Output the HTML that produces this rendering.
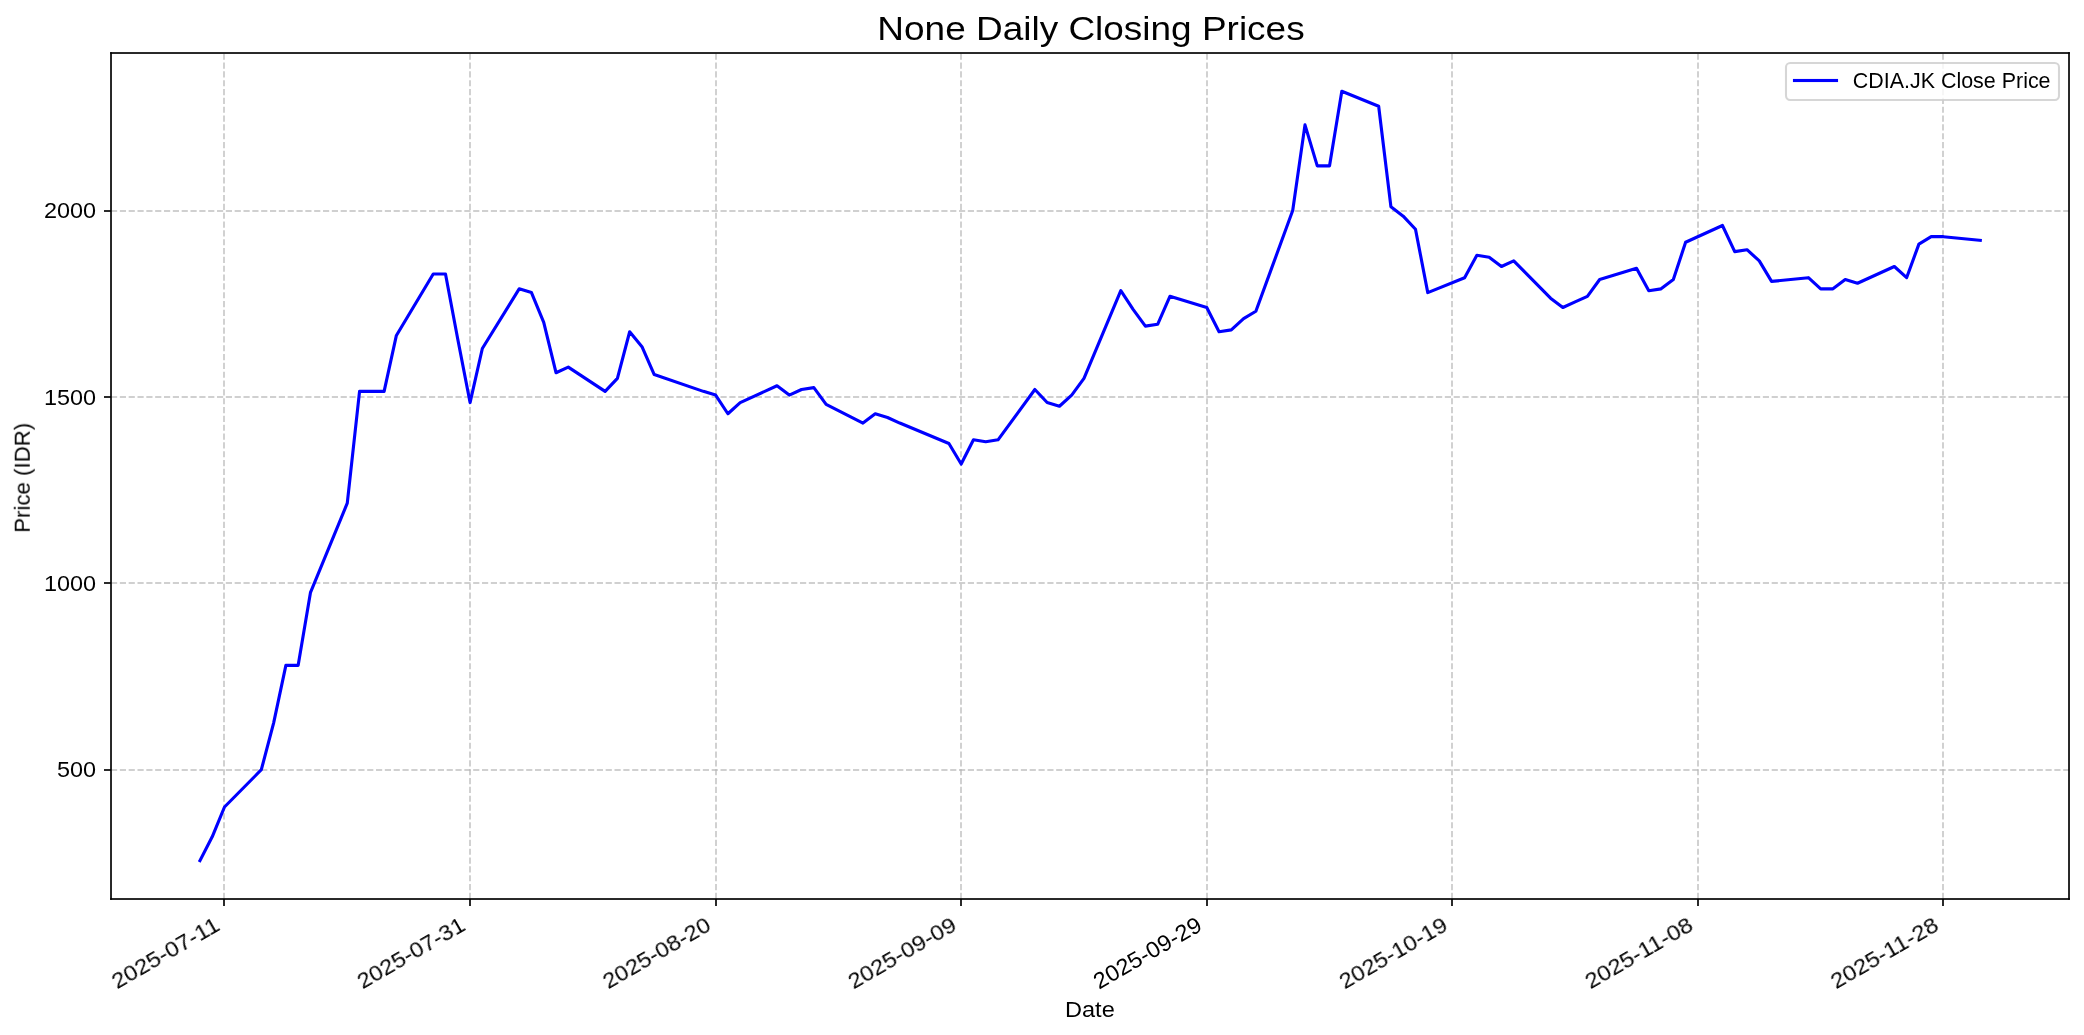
<!DOCTYPE html>
<html lang="en">
<head>
<meta charset="utf-8">
<title>None Daily Closing Prices</title>
<style>
html,body{margin:0;padding:0;background:#fff;}
body{width:2084px;height:1035px;overflow:hidden;}
svg{display:block;}
text{font-family:"Liberation Sans",sans-serif;fill:#000;}
.grid{stroke:#b0b0b0;stroke-opacity:0.7;stroke-width:1.6667;stroke-dasharray:6.1667 2.6667;fill:none;}
.hgrid{stroke-opacity:0.8;}
.tick{stroke:#000;stroke-width:1.6667;fill:none;}
.title{font-size:34px;}
.legend{font-size:21.8px;}
.ytick{font-size:21.45px;}
.xtick{font-size:22.6px;}
.xlabel{font-size:21.25px;}
.ylabel{font-size:21.3px;}
</style>
</head>
<body>
<svg width="2084" height="1035" viewBox="0 0 2084 1035">
<rect x="0" y="0" width="2084" height="1035" fill="#ffffff"/>
<!-- grid -->
<g class="grid">
<line x1="224" y1="899" x2="224" y2="53"/>
<line x1="470" y1="899" x2="470" y2="53"/>
<line x1="716" y1="899" x2="716" y2="53"/>
<line x1="961" y1="899" x2="961" y2="53"/>
<line x1="1207" y1="899" x2="1207" y2="53"/>
<line x1="1452" y1="899" x2="1452" y2="53"/>
<line x1="1698" y1="899" x2="1698" y2="53"/>
<line x1="1943" y1="899" x2="1943" y2="53"/>
<line class="hgrid" x1="111" y1="770" x2="2069" y2="770"/>
<line class="hgrid" x1="111" y1="583" x2="2069" y2="583"/>
<line class="hgrid" x1="111" y1="397" x2="2069" y2="397"/>
<line class="hgrid" x1="111" y1="211" x2="2069" y2="211"/>
</g>
<!-- CDIA.JK close price series -->
<polyline points="199.93,860.67 212.21,836.81 224.49,806.99 261.33,769.72 273.6,723.12 285.88,665.35 298.16,665.35 310.44,592.66 347.27,503.2 359.55,391.37 371.83,391.37 384.11,391.37 396.39,335.46 433.22,273.95 445.5,273.95 457.78,339.19 470.06,402.55 482.34,348.5 519.17,288.86 531.45,292.59 543.73,322.41 556.01,372.73 568.28,367.14 605.12,391.37 617.4,378.32 629.68,331.73 641.96,346.64 654.23,374.6 703.35,391.37 715.63,395.1 727.9,413.74 740.18,402.55 777.02,385.78 789.3,395.1 801.57,389.51 813.85,387.64 826.13,404.42 862.97,423.06 875.24,413.74 887.52,417.46 899.8,423.06 948.91,443.56 961.19,464.06 973.47,439.83 985.75,441.69 998.03,439.83 1034.86,389.51 1047.14,402.55 1059.42,406.28 1071.7,395.1 1083.98,378.32 1120.81,290.73 1133.09,309.36 1145.37,326.14 1157.65,324.27 1169.92,296.32 1206.76,307.5 1219.04,331.73 1231.32,329.87 1243.59,318.68 1255.87,311.23 1292.71,210.58 1304.99,124.85 1317.26,165.85 1329.54,165.85 1341.82,91.3 1378.66,106.21 1390.93,206.86 1403.21,216.18 1415.49,229.22 1427.77,292.59 1464.6,277.68 1476.88,255.32 1489.16,257.18 1501.44,266.5 1513.72,260.91 1550.55,298.18 1562.83,307.5 1575.11,301.91 1587.39,296.32 1599.67,279.54 1636.5,268.36 1648.78,290.73 1661.06,288.86 1673.34,279.54 1685.61,242.27 1722.45,225.49 1734.73,251.59 1747.01,249.72 1759.28,260.91 1771.56,281.41 1808.4,277.68 1820.68,288.86 1832.95,288.86 1845.23,279.54 1857.51,283.27 1894.35,266.5 1906.62,277.68 1918.9,244.13 1931.18,236.68 1943.46,236.68 1980.29,240.41" fill="none" stroke="#0000ff" stroke-width="3.125" stroke-linejoin="round" stroke-linecap="square"/>
<!-- ticks -->
<g class="tick">
<line x1="224" y1="899" x2="224" y2="906"/>
<line x1="470" y1="899" x2="470" y2="906"/>
<line x1="716" y1="899" x2="716" y2="906"/>
<line x1="961" y1="899" x2="961" y2="906"/>
<line x1="1207" y1="899" x2="1207" y2="906"/>
<line x1="1452" y1="899" x2="1452" y2="906"/>
<line x1="1698" y1="899" x2="1698" y2="906"/>
<line x1="1943" y1="899" x2="1943" y2="906"/>
<line x1="104" y1="770" x2="111" y2="770"/>
<line x1="104" y1="583" x2="111" y2="583"/>
<line x1="104" y1="397" x2="111" y2="397"/>
<line x1="104" y1="211" x2="111" y2="211"/>
</g>
<!-- axes spines (filled rects, 1.667px wide, with projecting ends) -->
<g fill="#000000">
<rect x="110.17" y="52.17" width="1.67" height="847.67"/>
<rect x="2068.17" y="52.17" width="1.67" height="847.67"/>
<rect x="110.17" y="898.17" width="1959.67" height="1.67"/>
<rect x="110.17" y="52.17" width="1959.67" height="1.67"/>
</g>
<!-- legend -->
<rect x="1786" y="63" width="273" height="37" rx="4.17" ry="4.17" fill="#ffffff" fill-opacity="0.8" stroke="#cccccc" stroke-opacity="0.8" stroke-width="2.083"/>
<rect x="1792.94" y="78.94" width="45.12" height="3.12" fill="#0000ff"/>
<!-- text (group opacity forces grayscale antialiasing) -->
<g opacity="0.999">
<text class="xtick" text-anchor="end" transform="translate(221.24,929.33) rotate(-30)" textLength="120.39" lengthAdjust="spacingAndGlyphs">2025-07-11</text>
<text class="xtick" text-anchor="end" transform="translate(466.81,929.33) rotate(-30)" textLength="120.39" lengthAdjust="spacingAndGlyphs">2025-07-31</text>
<text class="xtick" text-anchor="end" transform="translate(712.38,929.33) rotate(-30)" textLength="120.27" lengthAdjust="spacingAndGlyphs">2025-08-20</text>
<text class="xtick" text-anchor="end" transform="translate(957.94,929.33) rotate(-30)" textLength="120.64" lengthAdjust="spacingAndGlyphs">2025-09-09</text>
<text class="xtick" text-anchor="end" transform="translate(1203.51,929.33) rotate(-30)" textLength="120.64" lengthAdjust="spacingAndGlyphs">2025-09-29</text>
<text class="xtick" text-anchor="end" transform="translate(1449.08,929.33) rotate(-30)" textLength="120.52" lengthAdjust="spacingAndGlyphs">2025-10-19</text>
<text class="xtick" text-anchor="end" transform="translate(1694.64,929.33) rotate(-30)" textLength="120.27" lengthAdjust="spacingAndGlyphs">2025-11-08</text>
<text class="xtick" text-anchor="end" transform="translate(1940.21,929.33) rotate(-30)" textLength="120.27" lengthAdjust="spacingAndGlyphs">2025-11-28</text>
<text class="ytick" text-anchor="end" x="96.08" y="777.47" textLength="39.11" lengthAdjust="spacingAndGlyphs">500</text>
<text class="ytick" text-anchor="end" x="96.08" y="591.09" textLength="52.14" lengthAdjust="spacingAndGlyphs">1000</text>
<text class="ytick" text-anchor="end" x="96.08" y="404.71" textLength="52.14" lengthAdjust="spacingAndGlyphs">1500</text>
<text class="ytick" text-anchor="end" x="96.08" y="218.33" textLength="52.14" lengthAdjust="spacingAndGlyphs">2000</text>
<text class="title" text-anchor="middle" x="1090.99" y="40.33" textLength="427.31" lengthAdjust="spacingAndGlyphs">None Daily Closing Prices</text>
<text class="xlabel" text-anchor="middle" x="1089.86" y="1016.5" textLength="49.75" lengthAdjust="spacingAndGlyphs">Date</text>
<text class="ylabel" text-anchor="middle" transform="translate(29.75,477.74) rotate(-90)" textLength="109.97" lengthAdjust="spacingAndGlyphs">Price (IDR)</text>
<text class="legend" text-anchor="start" x="1852.81" y="87.58" textLength="197.75" lengthAdjust="spacingAndGlyphs">CDIA.JK Close Price</text>
</g>
</svg>
</body>
</html>
